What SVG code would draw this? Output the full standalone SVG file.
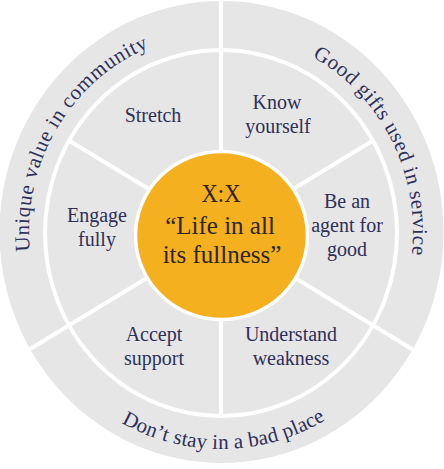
<svg xmlns="http://www.w3.org/2000/svg" width="444" height="469" viewBox="0 0 444 469">
  <defs>
    <style>
      .ring { fill: #e6e6e7; }
      .sep { stroke: #ffffff; stroke-width: 4; fill: none; }
      .lbl { font-family: "Liberation Serif", "DejaVu Serif", serif; font-size: 20px; fill: #2e3057; text-anchor: middle; }
      .arc { font-family: "Liberation Serif", "DejaVu Serif", serif; font-size: 21px; fill: #2e3057; text-anchor: middle; }
      .ctr { font-family: "Liberation Serif", "DejaVu Serif", serif; font-size: 25px; fill: #2d2618; text-anchor: middle; }
    </style>
    <path id="arcUL" d="M41.7,303.3 A192,199 0 0 1 200.9,34.1"/>
    <path id="arcUR" d="M254.3,36 A192,199 0 0 1 395.6,314.8"/>
    <path id="arcB" d="M60.9,371.5 A209,217 0 0 0 384.8,366.8"/>
  </defs>

  <rect x="0" y="0" width="444" height="469" fill="#ffffff"/>
  <ellipse class="ring" cx="221.5" cy="232" rx="222" ry="231"/>
  <ellipse class="sep" cx="221" cy="233" rx="176" ry="183"/>

  <g id="connectors">
    <path class="sep" d="M221,233 V0"/>
    <path class="sep" d="M221,233 L373,140.5"/>
    <path class="sep" d="M221,233 L430,360"/>
    <path class="sep" d="M221,233 V416"/>
    <path class="sep" d="M221,233 L12,360"/>
    <path class="sep" d="M221,233 L69,140.5"/>
  </g>

  <g id="outer-unique-value">
    <text class="arc" letter-spacing="0.7"><textPath href="#arcUL" startOffset="50%">Unique value in community</textPath></text>
  </g>
  <g id="outer-good-gifts">
    <text class="arc" letter-spacing="0.6"><textPath href="#arcUR" startOffset="50%">Good gifts used in service</textPath></text>
  </g>
  <g id="outer-dont-stay">
    <text class="arc" letter-spacing="0.2"><textPath href="#arcB" startOffset="50%">Don’t stay in a bad place</textPath></text>
  </g>

  <g id="seg-stretch">
    <text class="lbl" x="153" y="122">Stretch</text>
  </g>
  <g id="seg-know-yourself">
    <text class="lbl" x="277" y="109">Know</text>
    <text class="lbl" x="278" y="133">yourself</text>
  </g>
  <g id="seg-agent">
    <text class="lbl" x="347" y="208">Be an</text>
    <text class="lbl" x="347" y="232">agent for</text>
    <text class="lbl" x="347" y="256">good</text>
  </g>
  <g id="seg-understand">
    <text class="lbl" x="291" y="341">Understand</text>
    <text class="lbl" x="291" y="365">weakness</text>
  </g>
  <g id="seg-accept">
    <text class="lbl" x="154" y="341">Accept</text>
    <text class="lbl" x="154" y="365">support</text>
  </g>
  <g id="seg-engage">
    <text class="lbl" x="97" y="222">Engage</text>
    <text class="lbl" x="97" y="246">fully</text>
  </g>

  <g id="center">
    <ellipse cx="221.5" cy="235.5" rx="86" ry="84" fill="#f4b01f" stroke="#ffffff" stroke-width="3.5"/>
    <text class="ctr" x="221" y="202" font-size="31" textLength="39" lengthAdjust="spacingAndGlyphs">X:X</text>
    <text class="ctr" x="220" y="234">“Life in all</text>
    <text class="ctr" x="222" y="263">its fullness”</text>
  </g>
</svg>
